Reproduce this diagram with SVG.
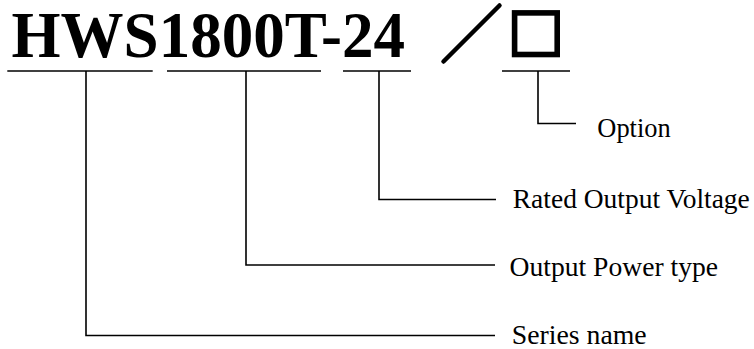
<svg xmlns="http://www.w3.org/2000/svg" width="754" height="349" viewBox="0 0 754 349">
<style>
.t{font-family:"Liberation Serif","Times New Roman",serif;fill:#000}
.lbl{font-size:26.5px}
.title{font-size:66px;font-weight:bold}
.c{fill:none;stroke:#000;stroke-width:1.6}
</style>
<rect width="754" height="349" fill="#fff"/>
<g id="title">
<text class="t title" x="11.5" y="57.3" textLength="393.5" lengthAdjust="spacingAndGlyphs">HWS1800T-24</text>
<line x1="443.5" y1="61.5" x2="499.5" y2="5.5" stroke="#000" stroke-width="4.5" stroke-linecap="round"/>
<rect x="514.6" y="12.9" width="42.6" height="41.6" fill="none" stroke="#000" stroke-width="5.6"/>
</g>
<g id="connectors">
<line class="c" x1="7.3" y1="71" x2="152.7" y2="71"/>
<line class="c" x1="167" y1="71" x2="321" y2="71"/>
<line class="c" x1="343" y1="71" x2="411" y2="71"/>
<line class="c" x1="502" y1="71" x2="570" y2="71"/>
<polyline class="c" points="86,71 86,335.5 495,335.5"/>
<polyline class="c" points="246,71 246,265 495,265"/>
<polyline class="c" points="379,71 379,199.5 496,199.5"/>
<polyline class="c" points="538,71 538,123.5 576,123.5"/>
</g>
<g id="option"><text class="t lbl" x="597.3" y="137.3" textLength="73.4" lengthAdjust="spacingAndGlyphs">Option</text></g>
<g id="voltage"><text class="t lbl" x="512.8" y="207.5" textLength="237" lengthAdjust="spacingAndGlyphs">Rated Output Voltage</text></g>
<g id="power"><text class="t lbl" x="509.5" y="276" textLength="208.5" lengthAdjust="spacingAndGlyphs">Output Power type</text></g>
<g id="series"><text class="t lbl" x="511.7" y="344" textLength="135" lengthAdjust="spacingAndGlyphs">Series name</text></g>
</svg>
